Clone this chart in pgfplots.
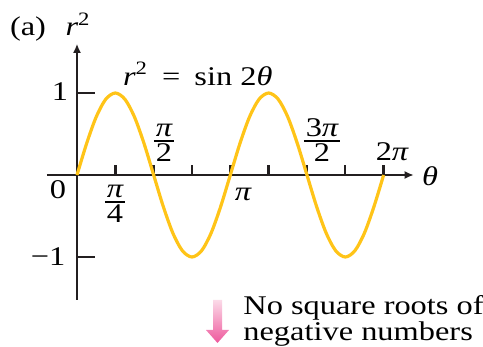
\documentclass[border=0pt]{standalone}
\usepackage{fontspec}
\setmainfont{Liberation Serif}[FakeStretch=1.2]
\usepackage{pgfplots}
\pgfplotsset{compat=1.18}
\usetikzlibrary{arrows.meta}
\definecolor{curve}{RGB}{255,196,24}
\definecolor{ink}{RGB}{35,31,32}
\definecolor{pinkA}{RGB}{251,218,232}
\definecolor{pinkB}{RGB}{238,88,156}
\newcommand{\ipi}{\mbox{\itshape π}}
\newcommand{\fr}[2]{${\mbox{\kern1pt#1\kern1pt}\above 0.9pt \mbox{#2}}$}
\begin{document}
\begin{tikzpicture}[font=\fontsize{13.5}{10.5}\selectfont]
\path[use as bounding box] (0pt,0pt) rectangle (241.5pt,-173.5pt);
\begin{axis}[
  at={(38.5pt,-87.5pt)}, anchor=origin,
  x=24.4pt, y=41pt, scale only axis,
  xmin=-0.615, xmax=6.9, ymin=-1.524, ymax=1.60,
  axis lines=middle, clip=false,
  axis line style={ink, line width=1.4pt, -{Latex[length=4.5pt,width=4pt]}},
  xtick={0.7854,1.5708,2.3562,3.1416,3.9270,4.7124,5.4978,6.2832},
  xticklabels={}, ytick=\empty,
  tick align=inside, major tick length=5pt,
  tick style={ink, line width=1.2pt},
]
% r^2 = sin 2 theta over one full turn
\addplot[curve, line width=1.6pt, smooth] coordinates {
  (0,0) (0.1963,0.3827) (0.3927,0.7071) (0.5890,0.9239) (0.7854,1)
  (0.9817,0.9239) (1.1781,0.7071) (1.3744,0.3827) (1.5708,0)
  (1.7671,-0.3827) (1.9635,-0.7071) (2.1598,-0.9239) (2.3562,-1)
  (2.5525,-0.9239) (2.7489,-0.7071) (2.9452,-0.3827) (3.1416,0)
  (3.3379,0.3827) (3.5343,0.7071) (3.7306,0.9239) (3.9270,1)
  (4.1233,0.9239) (4.3197,0.7071) (4.5160,0.3827) (4.7124,0)
  (4.9087,-0.3827) (5.1051,-0.7071) (5.3014,-0.9239) (5.4978,-1)
  (5.6941,-0.9239) (5.8905,-0.7071) (6.0868,-0.3827) (6.2832,0)
};
% ticks on the vertical axis
\draw[ink, line width=1.2pt] (axis cs:0,1) -- ++(9pt,0pt);
\draw[ink, line width=1.2pt] (axis cs:0,-1) -- ++(9pt,0pt);
\end{axis}
\begin{scope}[x=0.5pt,y=0.5pt]
% labels
\node at (28,-29) {(a)};
\node at (78,-24) {\itshape r\textsuperscript{\upshape 2}};
\node[anchor=west] at (116,-74) {\itshape r\textsuperscript{\upshape 2}\upshape\hspace{3pt} = \hspace{3pt}sin 2\itshape θ};
\node at (58,-190) {0};
\node at (60,-92) {1};
\node at (48,-257) {−1};
\node at (115,-204) {\fr{\ipi}{4}};
\node at (164,-143) {\fr{\ipi}{2}};
\node at (243,-194) {\ipi};
\node at (322,-140) {\fr{3\ipi}{2}};
\node at (392,-152) {2\ipi};
\node at (430,-176) {\itshape θ};
% pink arrow and note
\shade[top color=pinkA, bottom color=pinkB]
  (213,-300) -- (222,-300) -- (222,-330) -- (229,-330) -- (217.5,-343)
  -- (206,-330) -- (213,-330) -- cycle;
\node[anchor=north west, align=left, inner sep=0pt, font=\fontsize{13.5}{9.5}\selectfont]
  at (243,-295) {No square roots of\\negative numbers};
\end{scope}
\end{tikzpicture}
\end{document}
